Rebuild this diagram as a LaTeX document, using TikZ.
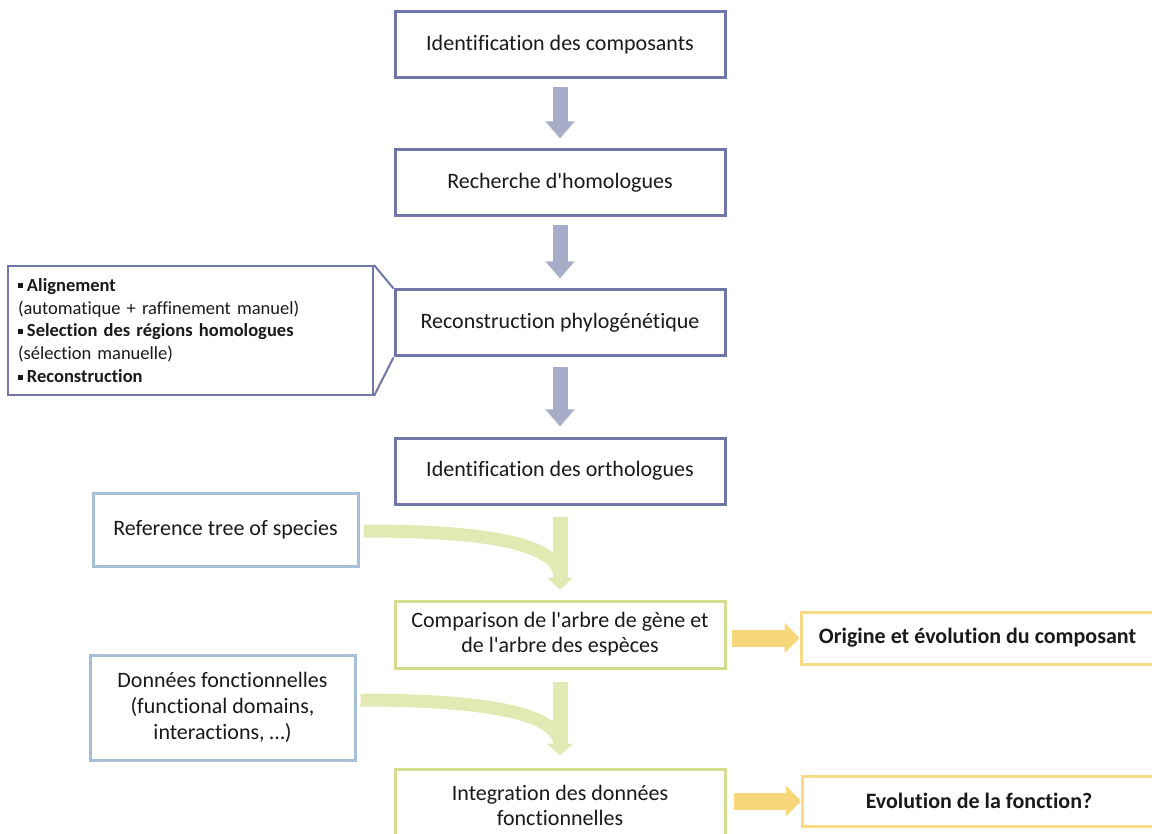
\documentclass[tikz,border=0pt]{standalone}
\usepackage{fontspec}
\setmainfont{Carlito}[Ligatures={TeXOff,CommonOff}]
\usetikzlibrary{arrows.meta,calc}
\definecolor{mainc}{HTML}{7077A8}
\definecolor{mainarr}{HTML}{A7ADC9}
\definecolor{greenc}{HTML}{D3DC8C}
\definecolor{greenarr}{HTML}{E3E9B3}
\definecolor{bluec}{HTML}{A6BFD6}
\definecolor{yelarr}{HTML}{F8D77A}
\definecolor{yelc}{HTML}{F9DA87}
\definecolor{txt}{HTML}{1A1A1A}
\newcommand\sqb{\raisebox{3pt}{\rule{5pt}{5pt}}\hspace{4pt}}
\begin{document}
\begin{tikzpicture}[x=1pt,y=-1pt,
  every node/.style={text=txt},
  mainbox/.style={draw=mainc, line width=3pt, fill=white, minimum width=330pt, minimum height=66pt, align=center, inner sep=0pt, font=\fontsize{22}{25}\selectfont},
  greenbox/.style={mainbox, draw=greenc},
  sidebox/.style={draw=bluec, line width=3pt, fill=white, minimum width=265pt, align=center, inner sep=0pt, font=\fontsize{22}{26}\selectfont},
  yelbox/.style={draw=yelc, line width=3pt, fill=white, minimum width=353pt, align=center, inner sep=0pt, font=\fontsize{22}{25}\selectfont\bfseries},
  bluearrow/.style={draw=mainarr, line width=15pt, -{Triangle[width=28pt,length=17pt]}},
  garrow/.style={draw=greenarr, line width=15pt, -{Triangle[width=26pt,length=12pt]}},
  gband/.style={draw=greenarr, line width=13pt},
  yarrow/.style={draw=yelarr, line width=17pt, -{Triangle[width=30pt,length=15pt]}},
]
\useasboundingbox (0,0) rectangle (1152,834);

% main column
\node[mainbox] (b1) at (560,45) {Identification des composants};
\node[mainbox] (b2) at (560,183) {Recherche d'homologues};
\node[mainbox] (b3) at (560,323) {Reconstruction phylogénétique};
\node[mainbox] (b4) at (560,471) {Identification des orthologues};
\node[greenbox, minimum height=67pt] (b5) at (560,634.5) {Comparison de l'arbre de gène et\\de l'arbre des espèces};
\node[greenbox, minimum height=72pt] (b6) at (560,805) {Integration des données\\fonctionnelles};

% callout
\node[draw=mainc, line width=2pt, fill=white, text width=345pt, inner xsep=10pt, inner ysep=0pt, minimum height=129pt, align=left, font=\fontsize{18.5}{22.8}\selectfont] (call) at (190.5,330.5)
 {\sqb\textbf{Alignement}\\
  (automatique + raffinement manuel)\\
  \sqb\textbf{Selection des régions homologues}\\
  (sélection manuelle)\\
  \sqb\textbf{Reconstruction}};
\draw[draw=mainc, line width=2pt] (call.north east) -- (b3.north west);
\draw[draw=mainc, line width=2pt] (call.south east) -- (b3.south west);

% side boxes
\node[sidebox, minimum height=73pt] (ref) at (225.5,529.5) {Reference tree of species};
\node[sidebox, minimum height=105pt] (don) at (222.5,707.5) {Données fonctionnelles\\(functional domains,\\interactions, …)};

% yellow boxes
\node[yelbox, minimum height=52pt] (orig) at (977.5,638) {Origine et évolution du composant};
\node[yelbox, minimum height=50pt] (evo) at (979,801) {Evolution de la fonction?};

% blue block arrows
\draw[bluearrow] ($(b1.south)+(0,8)$) -- ($(b2.north)+(0,-10)$);
\draw[bluearrow] ($(b2.south)+(0,8)$) -- ($(b3.north)+(0,-10)$);
\draw[bluearrow] ($(b3.south)+(0,10)$) -- ($(b4.north)+(0,-10)$);

% green curved arrows
\coordinate (g1s) at ($(ref.east)+(4,1.5)$);
\coordinate (g1e) at ($(b5.north)+(0,-22)$);
\draw[gband] (g1s) .. controls (470,531) and (560,540) .. (g1e);
\draw[garrow] ($(b4.south)+(0,11)$) -- ($(b5.north)+(0,-10)$);

\coordinate (g2s) at ($(don.east)+(4,-7.5)$);
\coordinate (g2e) at ($(b6.north)+(0,-22)$);
\draw[gband] (g2s) .. controls (470,700) and (560,710) .. (g2e);
\draw[garrow] ($(b5.south)+(0,12)$) -- ($(b6.north)+(0,-12)$);

% yellow arrows
\draw[yarrow] ($(b5.east |- orig.west)+(5,0)$) -- (orig.west);
\draw[yarrow] ($(b6.east |- evo.west)+(7,0)$) -- (evo.west);
\end{tikzpicture}
\end{document}
